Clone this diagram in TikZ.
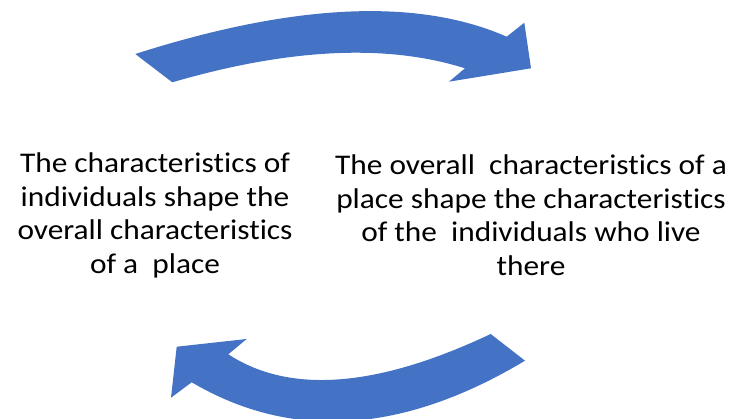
\documentclass[tikz,border=0pt]{standalone}
\usepackage{fontspec}
\setmainfont[FakeStretch=1.1,RawFeature=-liga]{Carlito}
\definecolor{arrowblue}{HTML}{4472C4}
\tikzset{
  blockarrow/.style={fill=arrowblue, draw=none},
  caption/.style={align=center, inner sep=0pt, font=\fontsize{28.5}{33.5}\selectfont}
}
\begin{document}
\begin{tikzpicture}[x=1pt,y=-1pt]
\useasboundingbox (0,0) rectangle (733,419);
\clip (0,0) rectangle (733,419);
% top arrow (pointing right)
\fill[blockarrow] (135.3,54) .. controls (293.8,3.3) and (417.6,-2.4) .. (506.7,36.7)
  -- (524.3,22.7) -- (531,68.3) -- (449,81.7) -- (465,68.3)
  .. controls (386.6,43.6) and (289,48.3) .. (172.3,82.3) -- cycle;
% bottom arrow (pointing left)
\fill[blockarrow] (525,360.7) -- (490.7,334)
  .. controls (377.2,387.6) and (289.8,394.4) .. (228.3,354.3)
  -- (246.7,339) -- (176.7,346.7) -- (171,397.7) -- (191.7,382.3)
  .. controls (291.7,441.1) and (402.8,433.9) .. (525,360.7) -- cycle;
\node[caption] (left) at (155,215.4) {The characteristics of\\individuals shape the\\overall characteristics\\of a\ \ place};
\node[caption] (right) at (531,215.4) {The overall\ \ characteristics of a\\place shape the characteristics\\of the\ \ individuals who live\\there};
\end{tikzpicture}
\end{document}
